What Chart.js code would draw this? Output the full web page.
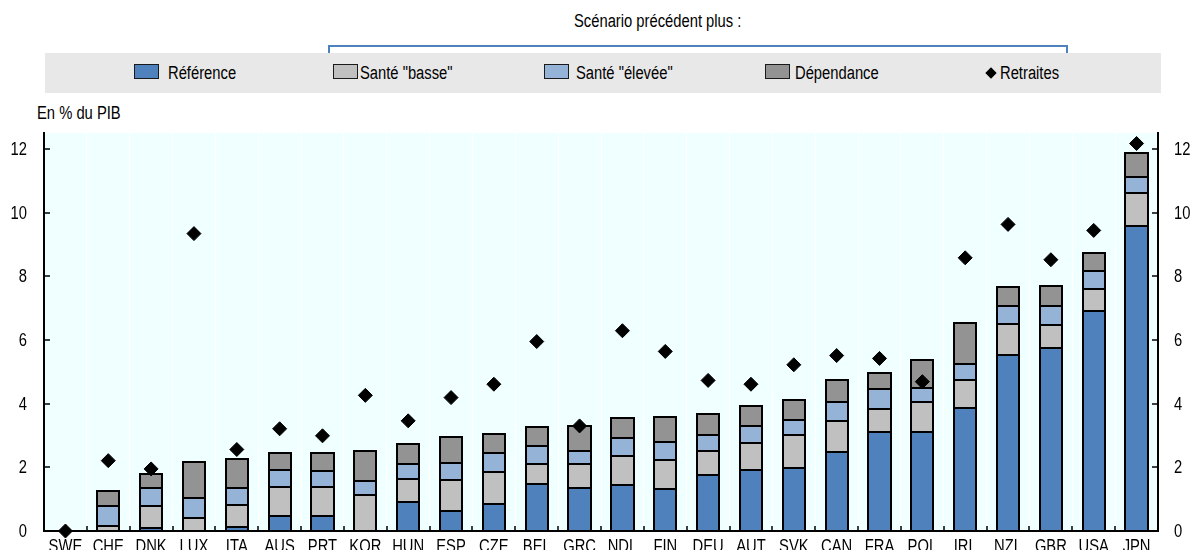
<!DOCTYPE html>
<html lang="fr">

<head>
    <meta charset="UTF-8">
    <title>Dépenses de santé et de dépendance</title>
    <script src="https://cdn.jsdelivr.net/npm/chart.js"></script>
    <style>
        body {
            margin: 0;
            width: 1195px;
            height: 550px;
            overflow: hidden;
            background: #fff;
            font-family: 'Liberation Sans', Arial, sans-serif;
            font-size: 18px;
            line-height: 18px;
            color: #000;
        }

        .abs { position: absolute; white-space: nowrap; }
        /* pas de police étroite installée : on resserre l'Arial à la main */
        .etroit { transform: scaleX(0.82); transform-origin: 0 0; }
        #bande { left: 45px; top: 53px; width: 1116px; height: 40px; background: #e8e8e8; }
        .boite { width: 23px; height: 13px; border: 1.5px solid #1a1a1a; top: 64px; }
        .losange { width: 8px; height: 8px; background: #000; transform: rotate(45deg); top: 69px; }
        #crochet { left: 328px; top: 45px; width: 736px; height: 9px; border: 2.5px solid #4f81bd; border-bottom: none; }
        #chart { position: absolute; left: 0; top: 0; }
    </style>
</head>

<body>
    <div class="abs etroit" style="left:574px; top:12px;">Scénario précédent plus :</div>
    <div class="abs" id="crochet"></div>
    <div class="abs" id="bande"></div>

    <div class="abs boite" style="left:134px; background:#4f81bd;"></div>
    <div class="abs etroit" style="left:168px; top:64px;">Référence</div>

    <div class="abs boite" style="left:333px; background:#c0c0c0;"></div>
    <div class="abs etroit" style="left:360px; top:64px;">Santé "basse"</div>

    <div class="abs boite" style="left:544px; background:#95b3d7;"></div>
    <div class="abs etroit" style="left:576px; top:64px;">Santé "élevée"</div>

    <div class="abs boite" style="left:765px; background:#939393;"></div>
    <div class="abs etroit" style="left:795px; top:64px;">Dépendance</div>

    <div class="abs losange" style="left:987px;"></div>
    <div class="abs etroit" style="left:1000px; top:64px;">Retraites</div>

    <div class="abs etroit" style="left:37px; top:104px;">En % du PIB</div>

    <canvas id="chart" width="1195" height="550"></canvas>

    <script>
        // valeurs (en % du PIB)
        const pays = ['SWE', 'CHE', 'DNK', 'LUX', 'ITA', 'AUS', 'PRT', 'KOR', 'HUN', 'ESP', 'CZE', 'BEL', 'GRC',
            'NDL', 'FIN', 'DEU', 'AUT', 'SVK', 'CAN', 'FRA', 'POL', 'IRL', 'NZL', 'GBR', 'USA', 'JPN'];
        const reference = [0, 0, 0.08, 0, 0.13, 0.46, 0.47, 0, 0.92, 0.62, 0.86, 1.49, 1.35,
            1.46, 1.33, 1.76, 1.93, 1.99, 2.49, 3.10, 3.11, 3.85, 5.53, 5.74, 6.90, 9.59];
        const santeBasse = [0, 0.16, 0.70, 0.40, 0.70, 0.93, 0.91, 1.12, 0.72, 0.97, 1.00, 0.62, 0.74,
            0.89, 0.89, 0.76, 0.83, 1.04, 0.98, 0.74, 0.93, 0.89, 0.96, 0.73, 0.70, 1.03];
        const santeElevee = [0, 0.62, 0.58, 0.63, 0.53, 0.53, 0.49, 0.46, 0.45, 0.53, 0.58, 0.56, 0.43,
            0.56, 0.57, 0.51, 0.55, 0.47, 0.58, 0.61, 0.46, 0.51, 0.57, 0.59, 0.57, 0.51];
        const dependance = [0, 0.48, 0.44, 1.13, 0.91, 0.53, 0.59, 0.93, 0.64, 0.83, 0.60, 0.61, 0.78,
            0.64, 0.80, 0.63, 0.63, 0.63, 0.68, 0.52, 0.86, 1.27, 0.60, 0.62, 0.56, 0.74];
        const retraites = [0, 2.21, 1.95, 9.34, 2.56, 3.21, 2.99, 4.26, 3.46, 4.19, 4.61, 5.95, 3.30,
            6.29, 5.64, 4.73, 4.61, 5.22, 5.51, 5.42, 4.69, 8.58, 9.63, 8.52, 9.44, 12.17];
        const yMax = 12.5;
        const yStep = 2;

        const etroit = 0.82;

        function texteEtroit(ctx, txt, x, y, align) {
            ctx.save();
            ctx.translate(x, y);
            ctx.scale(etroit, 1);
            ctx.textAlign = align;
            ctx.fillText(txt, 0, 0);
            ctx.restore();
        }

        // fond de la zone de tracé, contours des barres, graduations vers l'intérieur et libellés resserrés
        const decor = {
            id: 'decor',
            beforeDraw(chart) {
                const a = chart.chartArea;
                const ctx = chart.ctx;
                ctx.save();
                ctx.fillStyle = '#f0ffff';
                ctx.fillRect(a.left, a.top, a.right - a.left, a.bottom - a.top);
                ctx.restore();
            },
            // contours nets des segments, juste avant les losanges (dataset 0, dessiné en dernier)
            beforeDatasetDraw(chart, args) {
                if (args.index !== 0) return;
                const ctx = chart.ctx;
                ctx.save();
                ctx.strokeStyle = '#000';
                ctx.lineWidth = 2;
                chart.data.datasets.forEach(function (ds, i) {
                    if (ds.type !== 'bar') return;
                    chart.getDatasetMeta(i).data.forEach(function (el) {
                        const haut = Math.min(el.y, el.base);
                        const bas = Math.max(el.y, el.base);
                        if (bas - haut < 0.5) return;
                        const g = Math.round(el.x - el.width / 2);
                        const d = Math.round(el.x + el.width / 2);
                        ctx.strokeRect(g, Math.round(haut), d - g, Math.round(bas) - Math.round(haut));
                    });
                });
                ctx.restore();
            },
            afterDraw(chart) {
                const a = chart.chartArea;
                const ctx = chart.ctx;
                const x = chart.scales.x;
                const y = chart.scales.y;
                ctx.save();
                ctx.strokeStyle = '#000';
                ctx.lineWidth = 1.5;
                ctx.beginPath();
                const w = (a.right - a.left) / pays.length;
                for (let i = 1; i < pays.length; i++) {
                    const px = Math.round(a.left + i * w);
                    ctx.moveTo(px, a.bottom);
                    ctx.lineTo(px, a.bottom - 5);
                }
                y.ticks.forEach(function (t) {
                    if (t.value === 0) return;
                    const py = Math.round(y.getPixelForValue(t.value));
                    ctx.moveTo(a.left, py);
                    ctx.lineTo(a.left + 6, py);
                    ctx.moveTo(a.right, py);
                    ctx.lineTo(a.right - 6, py);
                });
                ctx.stroke();

                ctx.fillStyle = '#000';
                ctx.font = "18px 'Liberation Sans', Arial, sans-serif";
                ctx.textBaseline = 'alphabetic';
                x.ticks.forEach(function (t, i) {
                    texteEtroit(ctx, x.getLabelForValue(t.value), x.getPixelForTick(i), a.bottom + 21, 'center');
                });
                ctx.textBaseline = 'middle';
                y.ticks.forEach(function (t) {
                    const py = y.getPixelForValue(t.value) + 1;
                    texteEtroit(ctx, String(t.value), a.left - 17, py, 'right');
                    texteEtroit(ctx, String(t.value), a.right + 16, py, 'left');
                });
                ctx.restore();
            }
        };

        function barres(label, data, couleur) {
            return {
                type: 'bar',
                label: label,
                data: data,
                backgroundColor: couleur,
                borderWidth: 0,
                stack: 'total',
                order: 1,
                barPercentage: 0.52,
                categoryPercentage: 1
            };
        }

        const axeY = {
            min: 0,
            max: yMax,
            stacked: true,
            grid: { display: false, drawTicks: false },
            border: { display: true, color: '#000', width: 2 },
            ticks: { display: false, stepSize: yStep, includeBounds: false }
        };

        new Chart(document.getElementById('chart'), {
            data: {
                labels: pays,
                datasets: [
                    {
                        type: 'line',
                        label: 'Retraites',
                        data: retraites,
                        showLine: false,
                        pointStyle: 'rectRot',
                        pointRadius: 7,
                        pointHoverRadius: 7,
                        pointBackgroundColor: '#000',
                        pointBorderColor: '#000',
                        pointBorderWidth: 1,
                        clip: false,
                        order: 0
                    },
                    barres('Référence', reference, '#4f81bd'),
                    barres('Santé "basse"', santeBasse, '#c0c0c0'),
                    barres('Santé "élevée"', santeElevee, '#95b3d7'),
                    barres('Dépendance', dependance, '#939393')
                ]
            },
            options: {
                responsive: false,
                devicePixelRatio: 1,
                animation: false,
                layout: { padding: { top: 133 } },
                plugins: {
                    legend: { display: false },
                    tooltip: { enabled: false }
                },
                scales: {
                    x: {
                        stacked: true,
                        offset: true,
                        grid: { offset: true, color: '#ffffff', lineWidth: 1, drawTicks: false },
                        border: { display: true, color: '#000', width: 2 },
                        ticks: { display: false, autoSkip: false },
                        afterFit(s) { s.height = 19; }
                    },
                    y: Object.assign({}, axeY, {
                        position: 'left',
                        afterFit(s) { s.width = 44; }
                    }),
                    y2: Object.assign({}, axeY, {
                        position: 'right',
                        stacked: false,
                        afterFit(s) { s.width = 37; }
                    })
                }
            },
            plugins: [decor]
        });
    </script>
</body>

</html>
